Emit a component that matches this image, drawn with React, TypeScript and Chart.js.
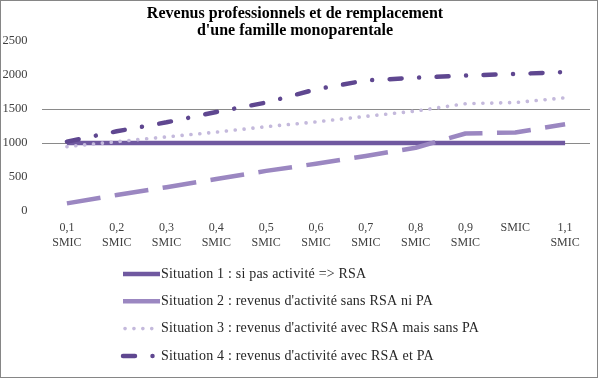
import React, { useEffect, useRef } from "react";
import { Chart, registerables } from "chart.js";

Chart.register(...registerables);

const categories: (string | string[])[] = [
  ["0,1", "SMIC"],
  ["0,2", "SMIC"],
  ["0,3", "SMIC"],
  ["0,4", "SMIC"],
  ["0,5", "SMIC"],
  ["0,6", "SMIC"],
  ["0,7", "SMIC"],
  ["0,8", "SMIC"],
  ["0,9", "SMIC"],
  "SMIC",
  ["1,1", "SMIC"],
];

const situation1 = [1000, 1000, 1000, 1000, 1000, 1000, 1000, 1000, 1000, 1000, 1000];
const situation2 = [112, 235, 350, 470, 590, 695, 810, 930, 1140, 1155, 1275];
const situation3 = [946, 1020, 1090, 1160, 1240, 1310, 1392, 1470, 1578, 1595, 1665];
const situation4 = [1020, 1172, 1304, 1456, 1595, 1790, 1920, 1960, 1993, 2015, 2044];

const seriesLabels = [
  "Situation 1 : si pas activité => RSA",
  "Situation 2 : revenus d'activité sans RSA ni PA",
  "Situation 3 : revenus d'activité avec RSA mais sans PA",
  "Situation 4 : revenus d'activité avec RSA et PA",
];

const titleLines = ["Revenus professionnels et de remplacement", "d'une famille monoparentale"];

const yMin = 0;
const yMax = 2500;
const yStep = 500;
const gridValues = [1000, 1500];

const colors = ["#7059A0", "#9B87C1", "#C4B9DC", "#5F4790"];
const dashes: number[][] = [[], [34, 14.5], [0.1, 8.8], [12, 17.5, 0.01, 17.5]];
const caps = ["butt", "butt", "round", "round"];
const widths = [4.5, 4.5, 3.6, 4.5];

const SERIF = "'Liberation Serif', 'DejaVu Serif', serif";

export default function App() {
  const ref = useRef<HTMLCanvasElement>(null);

  useEffect(() => {
    if (!ref.current) return;

    const framePlugin = {
      id: "frameAndLegend",
      afterDraw(chart: any) {
        const ctx = chart.ctx as any;
        ctx.save();
        const x0 = 123;
        const x1 = 160;
        chart.data.datasets.forEach((ds: any, i: number) => {
          const y = 274 + i * 27.3;
          ctx.beginPath();
          ctx.strokeStyle = ds.borderColor;
          ctx.lineWidth = ds.borderWidth;
          ctx.lineCap = ds.borderCapStyle;
          if (i === 1) ctx.setLineDash([]);
          else ctx.setLineDash(ds.borderDash || []);
          ctx.lineDashOffset = i === 2 ? -2 : 0;
          ctx.moveTo(x0, y);
          ctx.lineTo(i === 2 ? x1 - 3 : x1, y);
          ctx.stroke();
          ctx.setLineDash([]);
          ctx.fillStyle = "#262626";
          ctx.font = `14px ${SERIF}`;
          ctx.letterSpacing = "0.2px";
          ctx.textBaseline = "middle";
          ctx.textAlign = "left";
          ctx.fillText(ds.label, 161, y);
          ctx.letterSpacing = "0px";
        });
        ctx.strokeStyle = "#868686";
        ctx.lineWidth = 1;
        ctx.strokeRect(0.5, 0.5, 597, 377);
        ctx.restore();
      },
    };

    const mk = (label: string, data: number[], i: number) => ({
      label,
      data,
      borderColor: colors[i],
      backgroundColor: colors[i],
      borderWidth: widths[i],
      borderDash: dashes[i],
      borderCapStyle: caps[i],
      borderJoinStyle: "round",
      pointRadius: 0,
      tension: 0,
      fill: false,
      order: 4 - i,
    });

    const chart = new Chart(ref.current, {
      type: "line",
      data: {
        labels: categories,
        datasets: [
          mk(seriesLabels[0], situation1, 0),
          mk(seriesLabels[1], situation2, 1),
          mk(seriesLabels[2], situation3, 2),
          mk(seriesLabels[3], situation4, 3),
        ],
      },
      options: {
        animation: false,
        responsive: true,
        maintainAspectRatio: false,
        layout: { padding: { left: 0, right: 9, top: 0, bottom: 119 } },
        plugins: {
          legend: { display: false },
          tooltip: { enabled: false },
          title: {
            display: true,
            text: titleLines,
            color: "#000000",
            font: { family: SERIF, size: 16, weight: "bold", lineHeight: "17px" },
            padding: { top: 5, bottom: 2 },
          },
        },
        scales: {
          x: {
            offset: true,
            grid: { display: false, drawTicks: false },
            border: { display: false },
            ticks: {
              color: "#404040",
              font: { family: SERIF, size: 12, lineHeight: 1.2 },
              padding: 10,
              maxRotation: 0,
              autoSkip: false,
            },
            afterFit: (s: any) => {
              s.height = 50;
            },
          },
          y: {
            min: yMin,
            max: yMax,
            grid: {
              drawTicks: false,
              lineWidth: 1,
              color: (c: any) =>
                c.tick && gridValues.includes(c.tick.value) ? "#8a8a8a" : "rgba(0,0,0,0)",
            },
            border: { display: false },
            ticks: {
              stepSize: yStep,
              color: "#404040",
              font: { family: SERIF, size: 12.5 },
              padding: 14.5,
              callback: (v: any) => String(v),
            },
            afterFit: (s: any) => {
              s.width = 42;
            },
          },
        },
      },
      plugins: [framePlugin],
    } as any);

    return () => chart.destroy();
  }, []);

  return (
    <div style={{ position: "fixed", left: 0, top: 0, width: 599, height: 380, background: "#fff" }}>
      <canvas ref={ref} />
    </div>
  );
}
